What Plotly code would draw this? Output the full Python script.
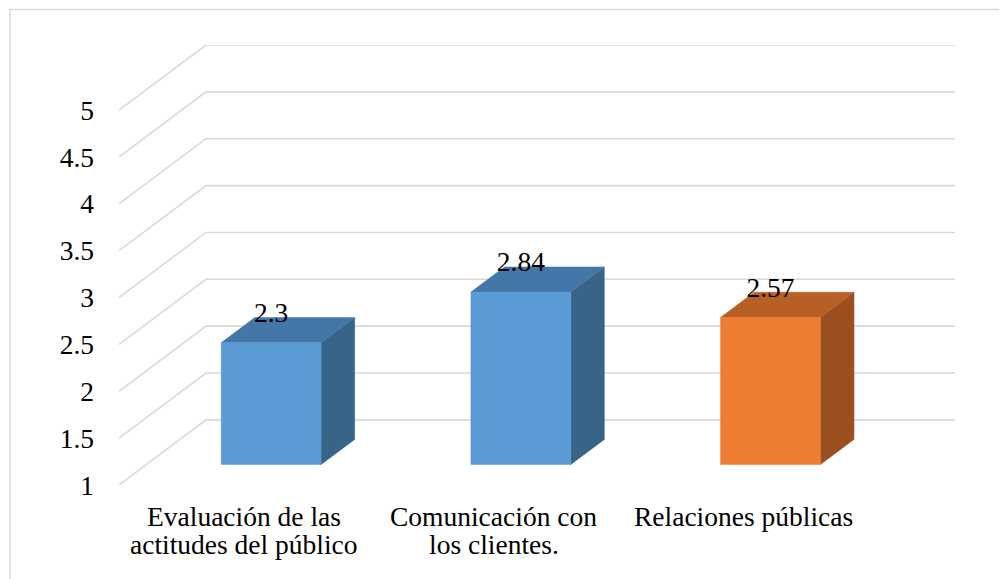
import plotly.graph_objects as go

# ---- data ----
categories = ["Evaluación de las<br>actitudes del público",
              "Comunicación con<br>los clientes.",
              "Relaciones públicas"]
values = [2.3, 2.84, 2.57]
y_ticks = [1, 1.5, 2, 2.5, 3, 3.5, 4, 4.5, 5]
y_ticklabels = ["1", "1.5", "2", "2.5", "3", "3.5", "4", "4.5", "5"]

front_colors = ["#5B9BD5", "#5B9BD5", "#ED7D31"]
side_colors = ["#386487", "#386487", "#9A501E"]
top_colors = ["#4477A7", "#4477A7", "#B85F26"]

# ---- 3D projection parameters (in axis units) ----
DX = 0.3484   # depth offset along x
DY = 0.695    # depth offset along y
F0, F1 = 0.314, 0.70   # bar front / back depth fraction
HW = 0.2      # bar half width
YMIN = 1.0
FONT = "Liberation Serif, Times New Roman, serif"
FS = 27.5
LINE_H = 28

fig = go.Figure()

# gridlines (floor diagonal + back wall)
gx, gy = [], []
x_left, x_right = -0.5, len(categories) - 0.5
for t in y_ticks:
    gx += [x_left, x_left + DX, x_right + DX, None]
    gy += [t, t + DY, t + DY, None]
fig.add_trace(go.Scatter(x=gx, y=gy, mode="lines",
                         line=dict(color="#d9d9d9", width=1.6),
                         hoverinfo="skip", showlegend=False))


def poly(xs, ys, color):
    fig.add_trace(go.Scatter(x=xs + [xs[0]], y=ys + [ys[0]], fill="toself",
                             fillcolor=color, mode="lines",
                             line=dict(width=0.5, color=color),
                             hoverinfo="skip", showlegend=False))


# bars
for i, v in enumerate(values):
    xf0 = i - HW + F0 * DX
    xf1 = i + HW + F0 * DX
    yb0 = YMIN + F0 * DY
    yt0 = v + F0 * DY
    ddx = (F1 - F0) * DX
    ddy = (F1 - F0) * DY
    poly([xf1, xf1 + ddx, xf1 + ddx, xf1], [yb0, yb0 + ddy, yt0 + ddy, yt0], side_colors[i])
    poly([xf0, xf1, xf1 + ddx, xf0 + ddx], [yt0, yt0, yt0 + ddy, yt0 + ddy], top_colors[i])
    poly([xf0, xf1, xf1, xf0], [yb0, yb0, yt0, yt0], front_colors[i])

# data labels
fig.add_trace(go.Scatter(
    x=[i + F0 * DX for i in range(len(values))],
    y=[v + F0 * DY + 0.296 for v in values],
    text=[f"{v:g}" for v in values],
    mode="text", textposition="middle center",
    textfont=dict(family=FONT, size=FS, color="#000000"),
    hoverinfo="skip", showlegend=False))

# page body has an 8px offset; compensate so the picture lands at the same pixels
OFF = 8
W, H = 1007 - OFF, 579 - OFF
L, T = 119 - OFF, 45 - OFF
pw, ph = 836, 440
R, B = W - L - pw, H - T - ph

# category labels (one annotation per line, below the axis)
annotations = []
for i, c in enumerate(categories):
    for j, line in enumerate(c.split("<br>")):
        annotations.append(dict(x=i, y=0, xref="x", yref="paper", text=line,
                                showarrow=False, xanchor="center", yanchor="middle",
                                yshift=-(31 + j * LINE_H),
                                font=dict(family=FONT, size=FS, color="#000000")))

fig.update_layout(
    width=W, height=H,
    margin=dict(l=L, r=R, t=T, b=B, pad=0),
    plot_bgcolor="white", paper_bgcolor="white",
    xaxis=dict(range=[x_left, x_right + DX], showticklabels=False,
               showgrid=False, zeroline=False, showline=False, ticks=""),
    yaxis=dict(range=[YMIN, y_ticks[-1] + DY], tickvals=y_ticks, ticktext=y_ticklabels,
               showgrid=False, zeroline=False, showline=False, ticks="",
               ticklabelstandoff=24,
               tickfont=dict(family=FONT, size=FS, color="#000000")),
    annotations=annotations,
    shapes=[dict(type="rect", xref="paper", yref="paper",
                 x0=(2 - L) / pw, x1=(1015 - L) / pw,
                 y0=(H - B - 590) / ph, y1=(H - B - 1.5) / ph,
                 line=dict(color="#d9d9d9", width=1.5), fillcolor="rgba(0,0,0,0)",
                 layer="below")],
)

fig.write_html("out.html")
